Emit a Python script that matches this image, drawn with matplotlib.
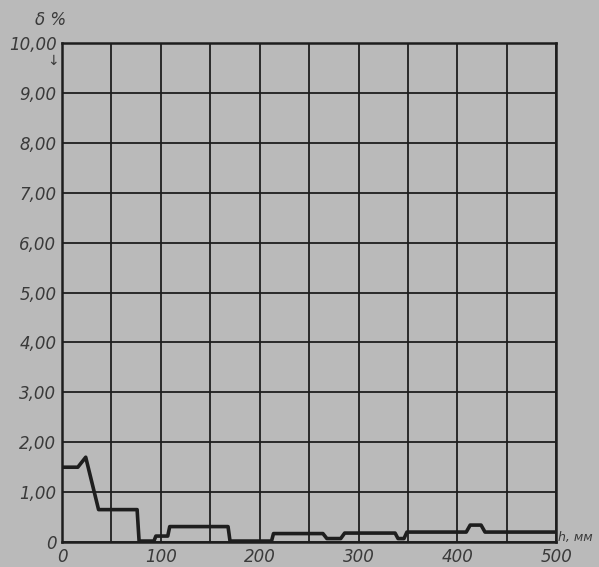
import matplotlib
matplotlib.use("Agg")
import matplotlib.pyplot as plt
import numpy as np

# Data: h (mm) vs delta (%)
h_vals = [0, 16, 24, 37, 76, 78, 93, 95, 107, 109, 168, 170, 212, 214, 264, 268, 282, 286, 337, 340, 346, 349, 409, 413, 424, 428, 500]
delta_vals = [1.5, 1.5, 1.7, 0.65, 0.65, 0.02, 0.02, 0.12, 0.12, 0.31, 0.31, 0.02, 0.02, 0.17, 0.17, 0.07, 0.07, 0.18, 0.18, 0.07, 0.07, 0.2, 0.2, 0.34, 0.34, 0.2, 0.2]

x_ticks = [0, 100, 200, 300, 400, 500]
x_ticklabels = ["0", "100", "200", "300", "400", "500"]
y_ticks = [0, 1, 2, 3, 4, 5, 6, 7, 8, 9, 10]
y_ticklabels = ["0", "1,00", "2,00", "3,00", "4,00", "5,00", "6,00", "7,00", "8,00", "9,00", "10,00"]

bg = "#bababa"
ink = "#1e1e1e"
txt = "#3a3a3a"

fig = plt.figure(figsize=(5.99, 5.67), dpi=100, facecolor=bg)
ax = fig.add_axes([0.1035, 0.044, 0.825, 0.88])
ax.set_facecolor(bg)

ax.plot(h_vals, delta_vals, color=ink, lw=2.6, solid_joinstyle="round", zorder=3)

ax.set_xlim(0, 500)
ax.set_ylim(0, 10)
ax.set_yticks(y_ticks)
ax.grid(True, color=ink, lw=1.3)
ax.set_axisbelow(True)
ax.tick_params(length=0, pad=4)
ax.set_xticks(np.arange(0, 501, 50))
ax.set_xticklabels([x_ticklabels[i // 2] if i % 2 == 0 else "" for i in range(11)],
                   fontsize=12, style="italic", color=txt)
ax.set_yticklabels(y_ticklabels, fontsize=12, style="italic", color=txt)
for s in ax.spines.values():
    s.set_color(ink)
    s.set_linewidth(1.8)

fig.text(0.085, 0.965, "δ %", fontsize=12, style="italic", color=txt, ha="center", va="center")
fig.text(0.088, 0.893, "↓", fontsize=10, color=txt, ha="center", va="center")
fig.text(0.932, 0.052, "h, мм", fontsize=9, style="italic", color=txt, ha="left", va="center")

fig.savefig("out.png", dpi=100, facecolor=bg)
